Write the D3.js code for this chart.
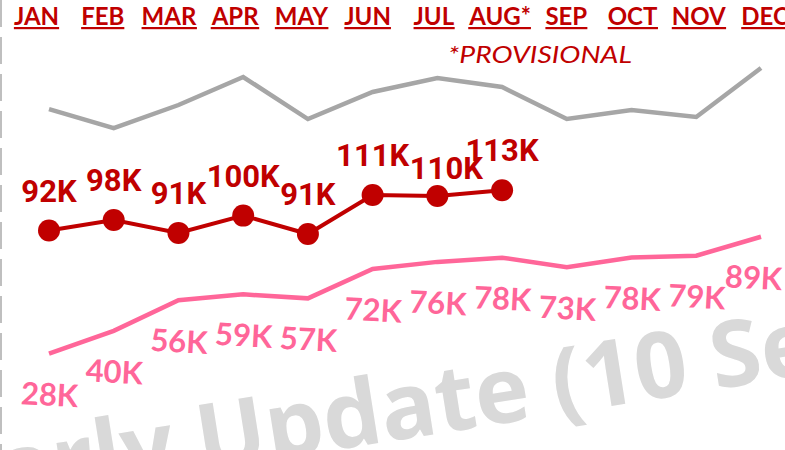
<!DOCTYPE html>
<html>
<head>
<meta charset="utf-8">
<script src="https://cdn.jsdelivr.net/npm/d3@7"></script>
<style>
  html, body { margin: 0; padding: 0; background: #fff; }
  svg { display: block; }
</style>
</head>
<body>
<div id="chart"></div>
<script>
// monthly counts, K
const months = ["JAN", "FEB", "MAR", "APR", "MAY", "JUN", "JUL", "AUG", "SEP", "OCT", "NOV", "DEC"]
const monthLabels = ["JAN", "FEB", "MAR", "APR", "MAY", "JUN", "JUL", "AUG*", "SEP", "OCT", "NOV", "DEC"]
const previousYear = [155.7, 145.8, 157.8, 172.4, 150.5, 164.6, 171.9, 167.2, 150.5, 155.2, 151.6, 177.1]
const currentYear = [92.4, 97.9, 91.2, 100.2, 90.6, 110.9, 110.4, 113.4]
const baseline = [28.3, 40.2, 56.1, 59.2, 57.1, 72.4, 76.1, 78.3, 73.3, 78.4, 79.3, 89.2]
const provisionalNote = "*PROVISIONAL"
const watermark = "Yearly Update (10 Sep 2024)"

const W = 785, H = 450

const svg = d3.select("#chart").append("svg")
    .attr("width", W)
    .attr("height", H)

const x = d3.scalePoint().domain(months).range([49, 761])
const xHead = d3.scalePoint().domain(months).range([36.5, 765])
const y = d3.scaleLinear().domain([0, 180]).range([408, 408 - 1.92 * 180])

const fmt = v => Math.round(v) + "K"

// watermark behind everything
svg.append("text")
    .attr("transform", "translate(-108,520) rotate(-9)")
    .attr("font-family", "'Open Sans', sans-serif")
    .attr("font-weight", 700)
    .attr("font-size", 92)
    .attr("fill", "#d9d9d9")
    .text(watermark)

// dashed left edge
svg.append("line")
    .attr("x1", 1).attr("x2", 1)
    .attr("y1", 0).attr("y2", H)
    .attr("stroke", "#bfbfbf")
    .attr("stroke-width", 2)
    .attr("stroke-dasharray", "27,10")

// month header
const head = svg.append("g")
head.selectAll("text")
  .data(months)
  .join("text")
    .attr("x", d => xHead(d))
    .attr("y", 25)
    .attr("text-anchor", "middle")
    .attr("font-family", "Lato, sans-serif")
    .attr("font-weight", 700)
    .attr("font-size", 24)
    .attr("fill", "#c00000")
    .text((d, i) => monthLabels[i])

head.selectAll("rect")
  .data(months)
  .join("rect")
    .each(function(d, i) {
      const t = head.selectAll("text").nodes()[i].getBBox()
      d3.select(this)
        .attr("x", t.x)
        .attr("y", 27)
        .attr("width", t.width)
        .attr("height", 2.2)
        .attr("fill", "#c00000")
    })

svg.append("text")
    .attr("x", 448)
    .attr("y", 63)
    .attr("font-family", "Lato, sans-serif")
    .attr("font-style", "italic")
    .attr("font-weight", 400)
    .attr("font-size", 23)
    .attr("textLength", 184)
    .attr("lengthAdjust", "spacingAndGlyphs")
    .attr("fill", "#c00000")
    .text(provisionalNote)

const line = d3.line()
    .x((d, i) => x(months[i]))
    .y(d => y(d))

svg.append("path")
    .datum(previousYear)
    .attr("d", line)
    .attr("fill", "none")
    .attr("stroke", "#a6a6a6")
    .attr("stroke-width", 4.5)

svg.append("path")
    .datum(baseline)
    .attr("d", line)
    .attr("fill", "none")
    .attr("stroke", "#ff6699")
    .attr("stroke-width", 4.5)

svg.append("path")
    .datum(currentYear)
    .attr("d", line)
    .attr("fill", "none")
    .attr("stroke", "#c00000")
    .attr("stroke-width", 4)

svg.append("g")
  .selectAll("circle")
  .data(currentYear)
  .join("circle")
    .attr("cx", (d, i) => x(months[i]))
    .attr("cy", d => y(d))
    .attr("r", 11)
    .attr("fill", "#c00000")

// nudges so labels don't collide
const redNudge = {JUL: [9, 12]}
const pinkNudge = {DEC: [-8, 0]}

svg.append("g")
  .selectAll("text")
  .data(currentYear)
  .join("text")
    .attr("x", (d, i) => x(months[i]) + (redNudge[months[i]] || [0, 0])[0])
    .attr("y", (d, i) => y(d) - 29 + (redNudge[months[i]] || [0, 0])[1])
    .attr("text-anchor", "middle")
    .attr("font-family", "Roboto, sans-serif")
    .attr("font-weight", 700)
    .attr("font-size", 31)
    .attr("fill", "#c00000")
    .text(fmt)

svg.append("g")
  .selectAll("text")
  .data(baseline)
  .join("text")
    .attr("transform", (d, i) => {
      const n = pinkNudge[months[i]] || [0, 0]
      return `translate(${x(months[i]) + n[0]},${y(d) + 52 + n[1]}) rotate(3)`
    })
    .attr("text-anchor", "middle")
    .attr("font-family", "Lato, sans-serif")
    .attr("font-weight", 700)
    .attr("font-size", 31)
    .attr("fill", "#ff6699")
    .text(fmt)
</script>
</body>
</html>
